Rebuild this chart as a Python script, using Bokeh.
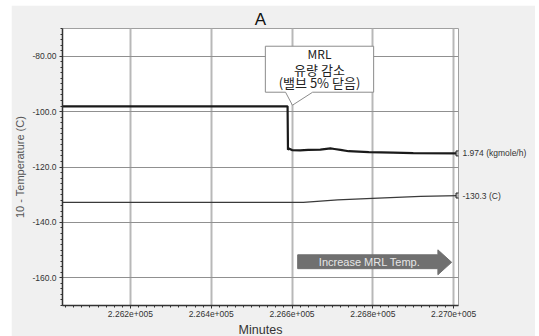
import numpy as np
from bokeh.plotting import figure
from bokeh.models import FixedTicker, Label, Range1d, LinearAxis, Spacer
from bokeh.layouts import column, row
from bokeh.embed import file_html
from bokeh.resources import INLINE

# ---- data ----
flow_t = [226032, 226589, 226590, 226592, 226600, 226620, 226640, 226670,
          226695, 226705, 226720, 226740, 226790, 226850, 226900, 227012]
flow_v = [-98.1, -98.1, -113.8, -113.3, -113.9, -114.0, -113.8, -113.7,
          -113.3, -113.5, -113.8, -114.3, -114.6, -114.8, -115.0, -115.1]
temp_t = [226032, 226628, 226713, 226799, 226918, 227012]
temp_v = [-132.8, -132.8, -131.9, -131.3, -130.6, -130.3]

x_ticks = [226200, 226400, 226600, 226800, 227000]
x_tick_labels = ["2.262e+005", "2.264e+005", "2.266e+005", "2.268e+005", "2.270e+005"]
y_ticks = [-160, -140, -120, -100, -80]
y_tick_labels = ["-160.0", "-140.0", "-120.0", "-100.0", "-80.00"]

flow_end_label = "1.974 (kgmole/h)"
temp_end_label = "-130.3 (C)"
callout_lines = ["MRL", "유량 감소", "(밸브 5% 닫음)"]
arrow_text = "Increase MRL Temp."
title_text = "A"
x_label = "Minutes"
y_label = "10 - Temperature (C)"

X0, X1 = 226032, 227012
Y0, Y1 = -170, -70
FONT = "Liberation Sans"

p = figure(frame_width=396, frame_height=277, x_range=Range1d(X0, X1), y_range=Range1d(Y0, Y1),
           output_backend="svg", toolbar_location=None, title=title_text,
           min_border_left=51, min_border_right=77, min_border_top=23, min_border_bottom=31)
p.title.align = "center"
p.title.text_font = FONT
p.title.text_font_size = "17px"
p.title.text_font_style = "normal"
p.title.text_color = "#111111"
p.title.standoff = 0
p.title.offset = 0

p.background_fill_color = "white"
p.border_fill_color = "#f0f0f0"
p.outline_line_color = "#a0a0a0"
p.outline_line_width = 1

p.xaxis.ticker = FixedTicker(ticks=x_ticks, minor_ticks=list(np.arange(226040, 227012, 20)))
p.yaxis.ticker = FixedTicker(ticks=y_ticks, minor_ticks=list(np.arange(-170, -69, 2)))
p.xaxis.major_label_overrides = dict(zip(x_ticks, x_tick_labels))
p.yaxis.major_label_overrides = dict(zip(y_ticks, y_tick_labels))

for ax in (p.xaxis[0], p.yaxis[0]):
    ax.axis_line_color = "#333333"
    ax.axis_line_width = 1.5
    ax.major_tick_line_color = "#333333"
    ax.minor_tick_line_color = "#333333"
    ax.major_tick_in = 0
    ax.major_tick_out = 3
    ax.minor_tick_in = 0
    ax.minor_tick_out = 2
    ax.major_label_text_font = FONT
    ax.major_label_text_font_size = "8.5px"
    ax.major_label_text_color = "#333333"

p.xaxis.major_label_standoff = 2
p.xaxis.axis_label = x_label
p.xaxis.axis_label_text_font = FONT
p.xaxis.axis_label_text_font_size = "12.5px"
p.xaxis.axis_label_text_font_style = "normal"
p.xaxis.axis_label_text_color = "#333333"
p.xaxis.axis_label_standoff = 3

p.yaxis.major_label_standoff = 3
p.yaxis.axis_label = y_label
p.yaxis.axis_label_text_font = FONT
p.yaxis.axis_label_text_font_size = "11px"
p.yaxis.axis_label_text_font_style = "normal"
p.yaxis.axis_label_text_color = "#555555"
p.yaxis.axis_label_standoff = 3

# right-side end-value labels as an extra axis
end_vals = [flow_v[-1], temp_v[-1]]
end_labels = [flow_end_label, temp_end_label]
rax = LinearAxis(ticker=FixedTicker(ticks=end_vals, minor_ticks=[]),
                 major_label_overrides=dict(zip(end_vals, end_labels)),
                 axis_line_color=None, major_tick_line_color=None, minor_tick_line_color=None,
                 major_tick_out=0, major_tick_in=0, minor_tick_out=0, minor_tick_in=0,
                 major_label_standoff=4, major_label_text_font=FONT,
                 major_label_text_font_size="8.5px", major_label_text_color="#333333")
p.add_layout(rax, "right")

p.xgrid.grid_line_color = "#b8b8b8"
p.xgrid.grid_line_width = 2
p.ygrid.grid_line_color = "#909090"
p.ygrid.grid_line_width = 1

# series
p.line(temp_t, temp_v, line_color="#3a3a3a", line_width=1.3)
p.line(flow_t, flow_v, line_color="#1a1a1a", line_width=2.2)
p.scatter([flow_t[-1], temp_t[-1]], [flow_v[-1], temp_v[-1]], marker="square", size=5,
          fill_color="#bbbbbb", line_color="#222222", line_width=1)

# callout box
cx = [226534, 226802, 226802, 226651, 226601, 226584, 226534]
cy = [-76.4, -76.4, -93.0, -93.0, -97.7, -93.0, -93.0]
p.patch(cx, cy, fill_color="white", line_color="#8c8c8c", line_width=1)
for txt, yy, fs in zip(callout_lines, [-78.9, -84.7, -89.4], ["12px", "13px", "13px"]):
    p.add_layout(Label(x=226668, y=yy, text=txt, text_font="Noto Sans CJK KR",
                       text_font_size=fs, text_color="#222222",
                       text_align="center", text_baseline="middle"))

# arrow
ax_ = [226614, 226961, 226961, 226995, 226961, 226961, 226614]
ay_ = [-151.7, -151.7, -149.9, -154.4, -158.9, -156.7, -156.7]
p.patch(ax_, ay_, fill_color="#707070", line_color="#707070", line_width=1)
p.add_layout(Label(x=226792, y=-154.2, text=arrow_text, text_font=FONT,
                   text_font_size="11px", text_color="#e6e6e6",
                   text_align="center", text_baseline="middle"))

layout = column(Spacer(height=5), row(Spacer(width=11), p))
open("out.html", "w").write(file_html(layout, INLINE))
